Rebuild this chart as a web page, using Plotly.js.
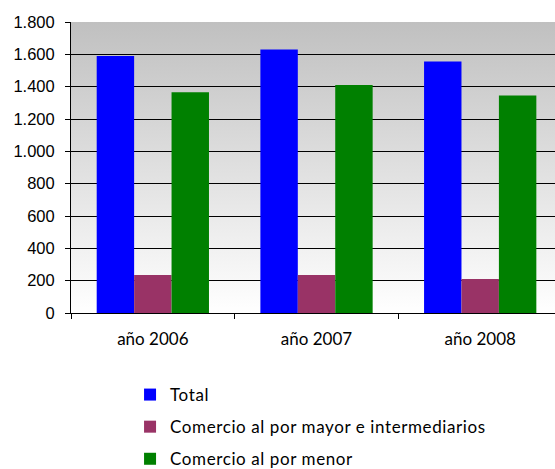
<!DOCTYPE html>
<html>
<head>
<meta charset="utf-8">
<script src="https://cdn.plot.ly/plotly-3.0.1.min.js"></script>
<style>
html,body{margin:0;padding:0;overflow:hidden;background:#fff;}
#chart{width:555px;height:469px;}
.legendtext{letter-spacing:0.6px;}
</style>
</head>
<body>
<div id="chart"></div>
<script>
const categories = ["año 2006", "año 2007", "año 2008"];
const seriesNames = ["Total", "Comercio al por mayor e intermediarios", "Comercio al por menor"];
const totalValues = [1590, 1630, 1555];
const mayorValues = [235, 235, 210];
const menorValues = [1365, 1410, 1345];
const seriesColors = ["#0000FF", "#993366", "#008000"];
const yTicks = [0, 200, 400, 600, 800, 1000, 1200, 1400, 1600, 1800];

const seriesValues = [totalValues, mayorValues, menorValues];
const traces = seriesValues.map((vals, i) => ({
  type: "bar",
  x: categories,
  y: vals,
  name: seriesNames[i],
  legendgroup: "g" + i,
  marker: {color: seriesColors[i], line: {width: 0}},
  hoverinfo: "none"
}));

const gradSvg = "<svg xmlns='http://www.w3.org/2000/svg' width='10' height='100' preserveAspectRatio='none'>" +
  "<defs><linearGradient id='g' x1='0' y1='0' x2='0' y2='1'>" +
  "<stop offset='0' stop-color='#C0C0C0'/><stop offset='1' stop-color='#FFFFFF'/>" +
  "</linearGradient></defs><rect width='10' height='100' fill='url(#g)'/></svg>";
const gradUri = "data:image/svg+xml;charset=utf-8," + encodeURIComponent(gradSvg);

const layout = {
  width: 555,
  height: 469,
  margin: {l: 71, r: 0, t: 22, b: 156, autoexpand: false},
  paper_bgcolor: "#FFFFFF",
  plot_bgcolor: "rgba(0,0,0,0)",
  separators: ",.",
  barmode: "group",
  bargap: 0.314,
  bargroupgap: 0,
  showlegend: true,
  legend: {
    orientation: "v",
    x: 0.122,
    xanchor: "left",
    y: -0.22,
    yanchor: "top",
    font: {family: "Lato, 'Open Sans', sans-serif", size: 17, color: "#000"},
    tracegroupgap: 7,
    traceorder: "grouped",
    bgcolor: "rgba(0,0,0,0)"
  },
  xaxis: {
    type: "category",
    range: [-0.5, 2.457],
    tickson: "boundaries",
    ticks: "outside",
    ticklen: 5,
    tickcolor: "#000",
    showline: true,
    linecolor: "#000",
    linewidth: 1,
    showgrid: false,
    ticklabelstandoff: 11,
    tickfont: {family: "Lato, 'Open Sans', sans-serif", size: 17, color: "#000"},
    automargin: false,
    fixedrange: true
  },
  yaxis: {
    range: [0, 1800],
    tickvals: yTicks,
    tickformat: ",d",
    ticks: "outside",
    ticklen: 5,
    tickcolor: "#000",
    showline: true,
    linecolor: "#000",
    linewidth: 1,
    showgrid: true,
    gridcolor: "#000",
    gridwidth: 1,
    zeroline: false,
    ticklabelstandoff: 7,
    tickfont: {family: "'Liberation Sans', Arial, sans-serif", size: 16.5, color: "#000"},
    automargin: false,
    fixedrange: true
  },
  images: [{
    source: gradUri,
    xref: "x domain",
    yref: "y domain",
    x: 0, y: 1,
    sizex: 1, sizey: 1,
    xanchor: "left", yanchor: "top",
    sizing: "stretch",
    layer: "below"
  }]
};

Plotly.newPlot("chart", traces, layout, {displayModeBar: false, staticPlot: true});
</script>
</body>
</html>
